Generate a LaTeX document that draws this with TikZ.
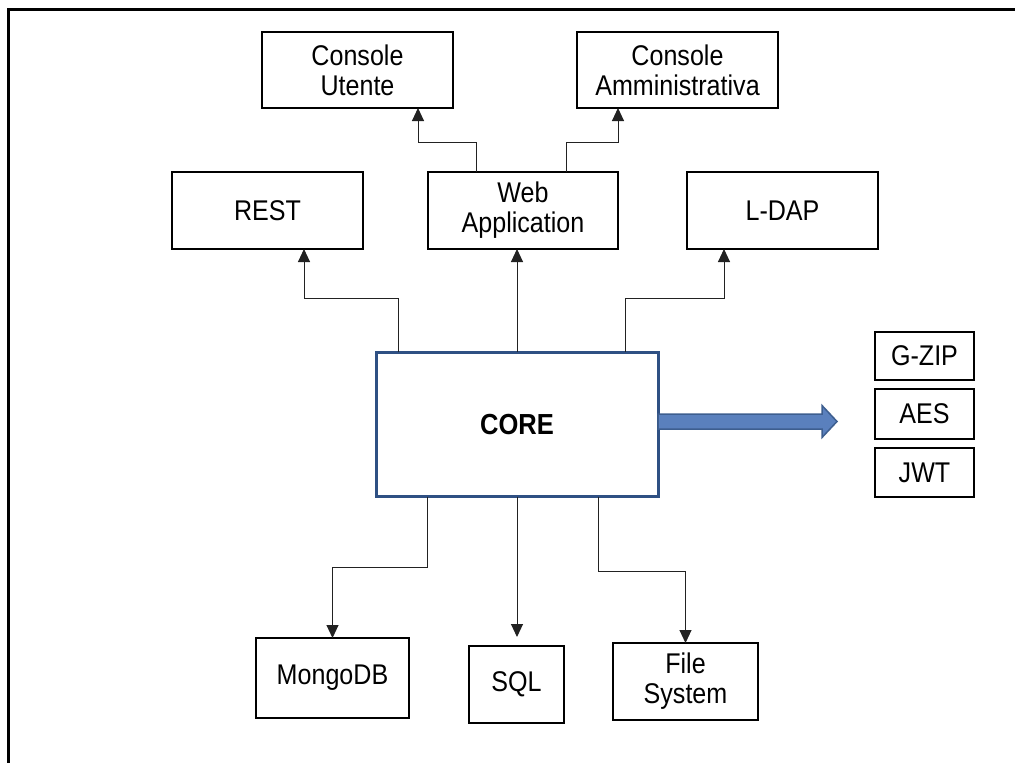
\documentclass[tikz,border=0pt]{standalone}
\usepackage{fontspec}
\setmainfont{Liberation Sans}[FakeStretch=0.88]
\usetikzlibrary{arrows.meta,calc}
\definecolor{coreblue}{HTML}{2F5083}
\definecolor{arrfill}{HTML}{5A80BD}
\definecolor{arredge}{HTML}{3D5E8F}
\definecolor{connc}{HTML}{222222}
\tikzset{
  box/.style={draw=black, line width=2.3pt, fill=white, inner sep=0pt, outer sep=0pt,
    align=center, font=\fontsize{28.5}{30}\selectfont},
  corebox/.style={draw=coreblue, line width=3pt, fill=white, inner sep=0pt, outer sep=0pt,
    font=\fontsize{29}{30}\selectfont\bfseries},
  conn/.style={draw=connc, line width=1pt, -{Triangle[width=12pt,length=13pt]}},
  bigarrow/.style={fill=arrfill, draw=arredge, line width=1.5pt, line join=miter},
  frame/.style={draw=black, line width=3pt}
}
\begin{document}
\begin{tikzpicture}[x=1pt,y=-1pt]
\useasboundingbox (0,0) rectangle (1015,763);
% frame (only top and left edges are inside the picture)
\draw[frame] (8.5,780) -- (8.5,9.5) -- (1030,9.5);

% nodes
\node[box, minimum width=191pt, minimum height=76pt] (cu) at (357.5,70) {Console\\Utente};
\node[box, minimum width=201pt, minimum height=76pt] (ca) at (677.5,70) {Console\\Amministrativa};
\node[box, minimum width=191pt, minimum height=77pt] (rest) at (267.5,210.5) {REST};
\node[box, minimum width=190pt, minimum height=77pt] (web) at (523,210.5) {Web\\Application};
\node[box, minimum width=191pt, minimum height=77pt] (ldap) at (782.5,210.5) {L-DAP};
\node[corebox, minimum width=282pt, minimum height=144.5pt] (core) at (517,424.25) {CORE};
\node[box, minimum width=99pt, minimum height=48pt] (gzip) at (924.5,356) {G-ZIP};
\node[box, minimum width=99pt, minimum height=50pt] (aes) at (924.5,414) {AES};
\node[box, minimum width=99pt, minimum height=49pt] (jwt) at (924.5,472.5) {JWT};
\node[box, minimum width=153pt, minimum height=80pt] (mongo) at (332.5,678) {MongoDB};
\node[box, minimum width=95pt, minimum height=77pt] (sql) at (516.5,684.5) {SQL};
\node[box, minimum width=145pt, minimum height=77pt] (fs) at (685.5,681.5) {File\\System};

% connectors
\draw[conn] ([xshift=-119pt]core.north) -- ++(0,-54) -| ([xshift=36.5pt]rest.south);
\draw[conn] (core.north) -- (core.north |- web.south);
\draw[conn] ([xshift=108pt]core.north) -- ++(0,-54) -| ([xshift=-58.5pt]ldap.south);
\draw[conn] ([xshift=-47pt]web.north) -- ++(0,-30) -| ([xshift=60.5pt]cu.south);
\draw[conn] ([xshift=43pt]web.north) -- ++(0,-30) -| ([xshift=-59.5pt]ca.south);
\draw[conn] ([xshift=-90pt]core.south) -- ++(0,70.5) -| (mongo.north);
\draw[conn, shorten >=9pt] (core.south) -- (core.south |- sql.north);
\draw[conn] ([xshift=81pt]core.south) -- ++(0,74.5) -| (fs.north);

% big blue arrow
\coordinate (atop) at (0,414);
\coordinate (abot) at (0,429);
\coordinate (tip) at (837,421.5);
\draw[bigarrow] (core.east |- atop) -- (822,414) -- (822,405.5) -- (tip)
  -- (822,437.5) -- (822,429) -- (core.east |- abot) -- cycle;
\end{tikzpicture}
\end{document}
